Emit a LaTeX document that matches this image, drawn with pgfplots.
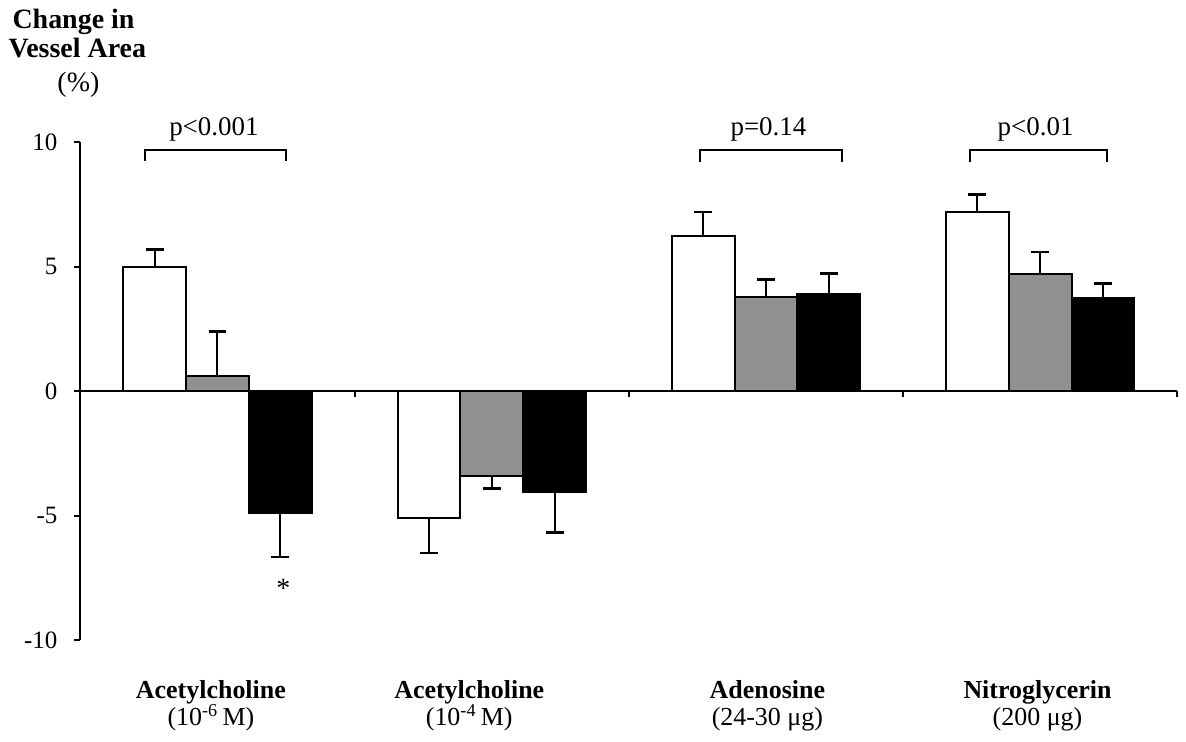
\documentclass[border=0pt]{standalone}
\usepackage{fontspec}
\setmainfont{Liberation Serif}
\usepackage{pgfplots}
\pgfplotsset{compat=1.18}
\definecolor{bargray}{RGB}{145,145,145}
\begin{document}
\fontsize{13}{15}\selectfont
\begin{tikzpicture}
\begin{axis}[
  scale only axis, width=549.5pt, height=249.5pt,
  xmin=-0.5, xmax=3.5, ymin=-10, ymax=10,
  axis x line*=middle, axis y line*=left,
  axis line style={line width=1pt,-},
  xtick={0.5,1.5,2.5,3.5}, xticklabels={},
  ytick={-10,-5,0,5,10},
  tick align=outside, major tick length=3pt,
  tick style={line width=1pt, black},
  /pgf/number format/assume math mode=true,
  yticklabel style={xshift=-4pt, font=\fontsize{12.5}{14}\selectfont},
  clip=false,
  ybar, bar width=0.229,
  error bars/y explicit,
  error bars/error bar style={line width=1pt, black},
  error bars/error mark options={rotate=90, mark size=4.5pt, line width=1.2pt, black},
]
% white bars (positive / negative values)
\addplot[fill=white, draw=black, line width=1pt, bar shift=-0.229, error bars/y dir=plus] coordinates {
  (0,5.0) +- (0,0.7)
  (2,6.25) +- (0,0.95)
  (3,7.2) +- (0,0.7)
};
\addplot[fill=white, draw=black, line width=1pt, bar shift=-0.229, error bars/y dir=minus] coordinates {
  (1,-5.1) +- (0,1.4)
};
% gray bars
\addplot[fill=bargray, draw=black, line width=1pt, bar shift=0, error bars/y dir=plus] coordinates {
  (0,0.63) +- (0,1.77)
  (2,3.8) +- (0,0.7)
  (3,4.73) +- (0,0.87)
};
\addplot[fill=bargray, draw=black, line width=1pt, bar shift=0, error bars/y dir=minus] coordinates {
  (1,-3.4) +- (0,0.5)
};
% black bars
\addplot[fill=black, draw=black, line width=1pt, bar shift=0.229, error bars/y dir=plus] coordinates {
  (2,3.93) +- (0,0.8)
  (3,3.73) +- (0,0.6)
};
\addplot[fill=black, draw=black, line width=1pt, bar shift=0.229, error bars/y dir=minus] coordinates {
  (0,-4.87) +- (0,1.77)
  (1,-4.05) +- (0,1.62)
};
% significance brackets
\draw[line width=1pt] (axis cs:-0.264,9.25) -- (axis cs:-0.264,9.7) -- (axis cs:0.249,9.7) -- (axis cs:0.249,9.25);
\draw[line width=1pt] (axis cs:1.761,9.2) -- (axis cs:1.761,9.7) -- (axis cs:2.276,9.7) -- (axis cs:2.276,9.2);
\draw[line width=1pt] (axis cs:2.743,9.2) -- (axis cs:2.743,9.7) -- (axis cs:3.243,9.7) -- (axis cs:3.243,9.2);
\node[anchor=base, font=\fontsize{13.5}{15}\selectfont] at (axis cs:-0.013,10.26) {p<0.001};
\node[anchor=base, font=\fontsize{13.5}{15}\selectfont] at (axis cs:2.009,10.26) {p=0.14};
\node[anchor=base, font=\fontsize{13.5}{15}\selectfont] at (axis cs:2.983,10.26) {p<0.01};
\node[anchor=base, font=\fontsize{14}{15}\selectfont] at (axis cs:0.24,-8.26) {*};
% category labels
\node[anchor=base, font=\bfseries] at (axis cs:-0.024,-12.34) {Acetylcholine};
\node[anchor=base] at (axis cs:-0.024,-13.42) {(10\textsuperscript{-6}\,M)};
\node[anchor=base, font=\bfseries] at (axis cs:0.918,-12.34) {Acetylcholine};
\node[anchor=base] at (axis cs:0.918,-13.42) {(10\textsuperscript{-4}\,M)};
\node[anchor=base, font=\bfseries] at (axis cs:2.005,-12.34) {Adenosine};
\node[anchor=base] at (axis cs:2.005,-13.42) {(24-30 μg)};
\node[anchor=base, font=\bfseries] at (axis cs:2.99,-12.34) {Nitroglycerin};
\node[anchor=base] at (axis cs:2.99,-13.42) {(200 μg)};
% y title
\node[anchor=base, font=\bfseries\fontsize{14}{15}\selectfont] at (axis cs:-0.525,14.59) {Change in};
\node[anchor=base, font=\bfseries\fontsize{14}{15}\selectfont] at (axis cs:-0.511,13.39) {Vessel Area};
\node[anchor=base, font=\fontsize{14}{15}\selectfont] at (axis cs:-0.507,12.06) {(\%)};
% page frame
\path (axis cs:-0.787,15.59) rectangle (axis cs:3.525,-14.07);
\end{axis}
\end{tikzpicture}
\end{document}
